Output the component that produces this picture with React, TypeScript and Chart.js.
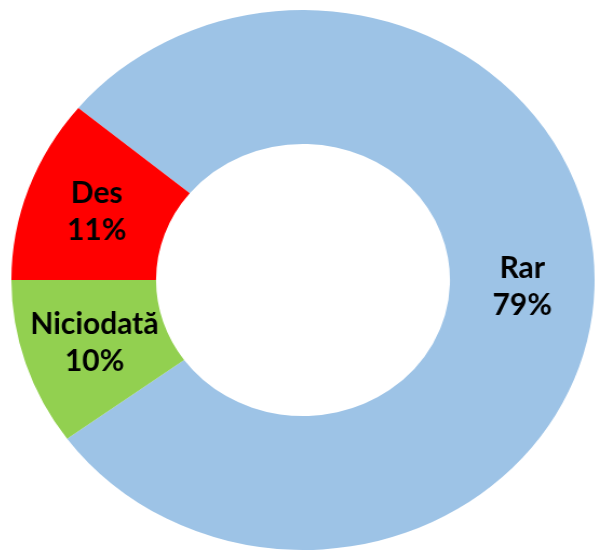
import React, { useEffect, useRef } from "react";
import { Chart, registerables } from "chart.js";

Chart.register(...registerables);

const categories = ["Rar", "Niciodată", "Des"];
const values = [79, 10, 11];
const colors = ["#9DC3E6", "#92D050", "#FF0000"];

const SCALE_X = 1.08;

const labelPlugin = {
  id: "sliceLabels",
  afterDatasetsDraw(chart: any) {
    const ctx = chart.ctx;
    const meta = chart.getDatasetMeta(0);
    const data = chart.data.datasets[0].data as number[];
    const total = data.reduce((a, b) => a + b, 0);
    ctx.save();
    ctx.fillStyle = "#000000";
    ctx.font = "bold 30px Lato, 'Open Sans', sans-serif";
    ctx.textAlign = "center";
    ctx.textBaseline = "middle";
    meta.data.forEach((arc: any, i: number) => {
      const pos = arc.tooltipPosition(false);
      const pct = Math.round((data[i] / total) * 100) + "%";
      ctx.save();
      ctx.translate(pos.x, pos.y);
      ctx.scale(1 / SCALE_X, 1);
      ctx.fillText(String(chart.data.labels[i]), 0, -18);
      ctx.fillText(pct, 0, 19);
      ctx.restore();
    });
    ctx.restore();
  },
};

export default function App() {
  const ref = useRef<HTMLCanvasElement | null>(null);
  useEffect(() => {
    if (!ref.current) return;
    const chart = new Chart(ref.current, {
      type: "doughnut",
      data: {
        labels: categories,
        datasets: [
          {
            data: values,
            backgroundColor: colors,
            borderWidth: 0,
          },
        ],
      },
      options: {
        responsive: false,
        animation: false,
        rotation: 309.6,
        cutout: "50.4%",
        layout: { padding: 0 },
        plugins: {
          legend: { display: false },
          tooltip: { enabled: false },
        },
      },
      plugins: [labelPlugin],
    });
    return () => chart.destroy();
  }, []);
  return (
    <div style={{ position: "absolute", left: 0, top: 0, width: 595, height: 550, background: "#fff", overflow: "hidden" }}>
      <div style={{ position: "absolute", left: 33, top: 9.5, width: 540, height: 540, transform: `scaleX(${SCALE_X})`, transformOrigin: "50% 50%" }}>
        <canvas ref={ref} width={540} height={540} style={{ width: 540, height: 540, display: "block" }} />
      </div>
    </div>
  );
}
